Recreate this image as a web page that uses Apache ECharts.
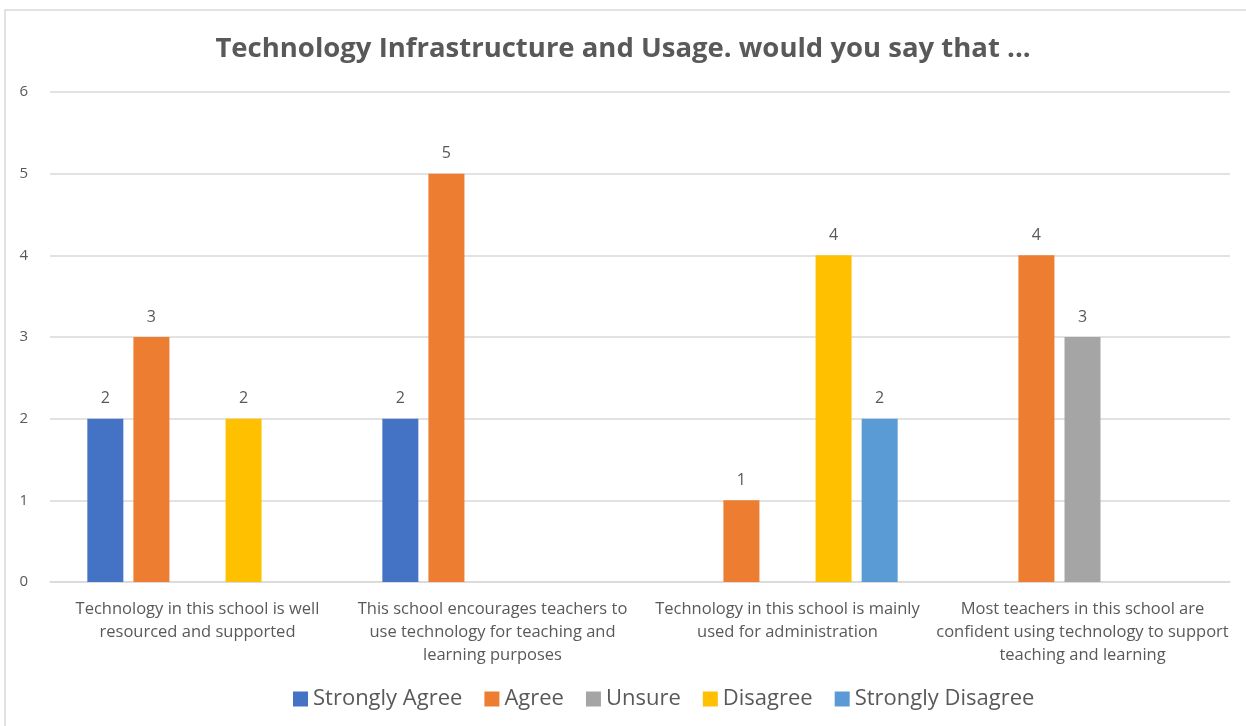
<!DOCTYPE html>
<html>
<head>
<meta charset="utf-8">
<script src="https://cdn.jsdelivr.net/npm/echarts@6/dist/echarts.min.js"></script>
<style>
  html, body { margin: 0; padding: 0; background: #fff; }
  #chart { width: 1246px; height: 726px; }
</style>
</head>
<body>
<div id="chart"></div>
<script>
const categories = [
    'Technology in this school is well\nresourced and supported',
    'This school encourages teachers to\nuse technology for teaching and\nlearning purposes',
    'Technology in this school is mainly\nused for administration',
    'Most teachers in this school are\nconfident using technology to support\nteaching and learning'
];
const seriesNames = ['Strongly Agree', 'Agree', 'Unsure', 'Disagree', 'Strongly Disagree'];
const stronglyAgree = [2, 2, 0, 0];
const agree = [3, 5, 1, 4];
const unsure = [0, 0, 0, 3];
const disagree = [2, 0, 4, 0];
const stronglyDisagree = [0, 0, 2, 0];
const yTicks = [0, 1, 2, 3, 4, 5, 6];
const colors = ['#4472C4', '#ED7D31', '#A5A5A5', '#FFC000', '#5B9BD5'];

const values = [stronglyAgree, agree, unsure, disagree, stronglyDisagree];
const textColor = '#595959';
const font = 'Open Sans';

const myChart = echarts.init(document.getElementById('chart'));

const option = {
    backgroundColor: '#fff',
    color: colors,
    animation: false,
    title: {
        text: 'Technology Infrastructure and Usage. would you say that ...',
        left: 'center',
        top: 30,
        textStyle: {
            color: textColor,
            fontSize: 27.5,
            fontWeight: 'bold',
            fontFamily: font
        }
    },
    graphic: [{
        type: 'rect',
        shape: { x: 5, y: 10, width: 1300, height: 800 },
        style: { fill: 'none', stroke: '#d9d9d9', lineWidth: 1.5 },
        silent: true
    }],
    legend: {
        bottom: 11,
        left: 288,
        itemWidth: 15,
        itemHeight: 15,
        itemGap: 22,
        icon: 'rect',
        textStyle: { color: textColor, fontSize: 22, fontFamily: font }
    },
    grid: { left: 50, right: 16, top: 92, bottom: 144 },
    xAxis: {
        type: 'category',
        data: categories,
        axisTick: { show: false },
        axisLine: { lineStyle: { color: '#d9d9d9', width: 1.5 } },
        axisLabel: {
            color: textColor,
            fontSize: 16.5,
            lineHeight: 23,
            margin: 16,
            interval: 0,
            fontFamily: font
        }
    },
    yAxis: {
        type: 'value',
        min: 0,
        max: yTicks[yTicks.length - 1],
        interval: 1,
        axisLabel: { color: textColor, fontSize: 15, margin: 22, fontFamily: font },
        splitLine: { lineStyle: { color: '#d9d9d9', width: 1.5 } }
    },
    series: seriesNames.map((name, i) => ({
        name: name,
        type: 'bar',
        data: values[i],
        barWidth: 36,
        barGap: '28%',
        label: {
            show: true,
            position: 'top',
            distance: 12,
            color: textColor,
            fontSize: 16,
            fontFamily: font,
            formatter: p => (p.value ? p.value : '')
        }
    }))
};

myChart.setOption(option);
</script>
</body>
</html>
